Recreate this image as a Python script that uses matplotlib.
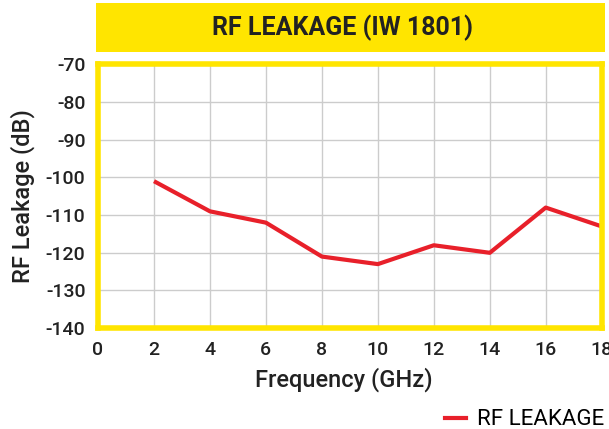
import matplotlib
matplotlib.use("Agg")
import matplotlib.pyplot as plt
from matplotlib.patches import Rectangle
from matplotlib.lines import Line2D

plt.rcParams['font.family'] = ['Roboto', 'DejaVu Sans']
plt.rcParams['axes.unicode_minus'] = False

freq_ghz = [2, 4, 6, 8, 10, 12, 14, 16, 18]
leakage_db = [-101, -109, -112, -121, -123, -118, -120, -108, -113]
x_ticks = [0, 2, 4, 6, 8, 10, 12, 14, 16, 18]
y_ticks = [-70, -80, -90, -100, -110, -120, -130, -140]

YELLOW = '#FFE500'
RED = '#E8202A'
INK = '#222222'

fig = plt.figure(figsize=(6.09, 4.29), dpi=100)
ax = fig.add_axes([0.161, 0.235, 0.827, 0.615])

ax.plot(freq_ghz, leakage_db, color=RED, lw=3, solid_capstyle='butt', zorder=3)

ax.set_xlim(0, 18)
ax.set_ylim(-140, -70)
ax.set_xticks(x_ticks)
ax.set_yticks(y_ticks)
ax.grid(True, color='#cccccc', lw=1)
ax.tick_params(length=0, labelsize=14, colors=INK)
ax.tick_params(axis='x', pad=9)
ax.tick_params(axis='y', pad=9)
for lbl in ax.get_xticklabels() + ax.get_yticklabels():
    lbl.set_fontweight('medium')
for sp in ax.spines.values():
    sp.set_color(YELLOW)
    sp.set_linewidth(4)
    sp.set_zorder(4)

ax.set_xlabel('Frequency (GHz)', fontsize=17, fontweight='medium', color=INK)
ax.xaxis.set_label_coords(0.487, -0.15)
ax.set_ylabel('RF Leakage (dB)', fontsize=17, fontweight='medium', color=INK, labelpad=8)

# title banner
fig.patches.append(Rectangle((96 / 609, 1 - 52 / 429), 509 / 609, 49 / 429,
                             transform=fig.transFigure, facecolor=YELLOW,
                             edgecolor='none', zorder=0))
fig.text(343 / 609, 1 - 28 / 429, 'RF LEAKAGE (IW 1801)', ha='center', va='center',
         fontsize=18, fontweight='bold', color=INK)

# legend
handle = Line2D([], [], color=RED, lw=3)
fig.legend([handle], ['RF LEAKAGE'], loc='lower right', bbox_to_anchor=(1.025, -0.05),
           frameon=False, handlelength=0.95, handletextpad=0.5,
           prop={'size': 16})

fig.savefig('out.png', dpi=100)
